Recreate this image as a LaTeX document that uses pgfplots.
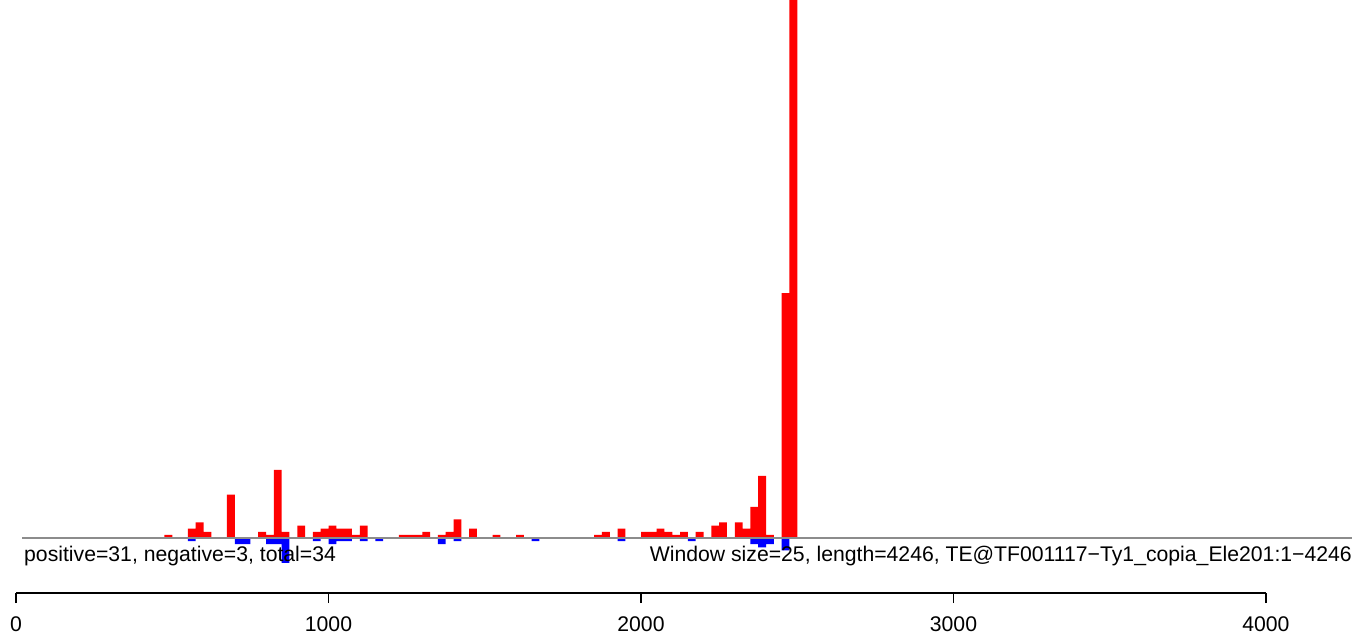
\documentclass[border=0pt]{standalone}
\usepackage{pgfplots}
\pgfplotsset{compat=1.18}
\usepackage{fontspec}
\setmainfont{Liberation Sans}
\newcommand{\rf}{\fontsize{21.2bp}{25bp}\selectfont}
\begin{document}
\begin{tikzpicture}
\path[use as bounding box] (0,0) rectangle (1356bp,637bp);
\begin{axis}[
  at={(0,0)}, anchor=south west,
  scale only axis, width=1356bp, height=637bp,
  xmin=-51.2, xmax=4288, ymin=-31.935, ymax=173.548,
  hide axis,
  ybar, bar width=25, bar shift=0pt,
]
\addplot[draw=none, fill=red] coordinates {
(487.5,1) (562.5,3) (587.5,5) (612.5,2) (687.5,14) (787.5,2) (812.5,1)
(837.5,22) (862.5,2) (912.5,4) (962.5,2) (987.5,3) (1012.5,4) (1037.5,3)
(1062.5,3) (1087.5,1) (1112.5,4) (1237.5,1) (1262.5,1) (1287.5,1) (1312.5,2)
(1362.5,1) (1387.5,2) (1412.5,6) (1462.5,3) (1537.5,1) (1612.5,1) (1862.5,1)
(1887.5,2) (1937.5,3) (2012.5,2) (2037.5,2) (2062.5,3) (2087.5,2) (2112.5,1)
(2137.5,2) (2187.5,2) (2237.5,4) (2262.5,5) (2312.5,5) (2337.5,3) (2362.5,10)
(2387.5,20) (2412.5,1) (2462.5,79) (2487.5,250)
};
\addplot[draw=none, fill=blue] coordinates {
(562.5,-1) (712.5,-2) (737.5,-2) (812.5,-2) (837.5,-2) (862.5,-8) (962.5,-1)
(1012.5,-2) (1037.5,-1) (1062.5,-1) (1112.5,-1) (1162.5,-1) (1362.5,-2)
(1412.5,-1) (1662.5,-1) (1937.5,-1) (2162.5,-1) (2362.5,-2) (2387.5,-3)
(2412.5,-2) (2462.5,-4)
};
\addplot[sharp plot, color={rgb,1:red,0.55;green,0.55;blue,0.55}, line width=1.5bp, forget plot] coordinates {(19.2,0) (4275.2,0)};
\node[anchor=base west, inner sep=0pt, font=\rf] at (axis cs:25.6,-7.42) {positive=31, negative=3, total=34};
\node[anchor=base east, inner sep=0pt, font=\rf] at (axis cs:4275.2,-7.42) {Window size=25, length=4246, TE@TF001117−Ty1\_copia\_Ele201:1−4246};
\end{axis}
\begin{axis}[
  at={(16bp,44bp)}, anchor=south west,
  scale only axis, width=1250bp, height=10bp,
  xmin=0, xmax=4000, ymin=0, ymax=1,
  axis x line*=bottom, hide y axis,
  axis line style={black, line width=1.3bp},
  xtick={0,1000,2000,3000,4000},
  tick align=outside, major tick length=10bp,
  xtick style={black, line width=1.3bp},
  xticklabel style={font=\rf, inner sep=0pt, yshift=-13bp},
  /pgf/number format/assume math mode=true,
  /pgf/number format/1000 sep={},
  scaled x ticks=false,
]
\addplot[draw=none] coordinates {(0,0) (4000,0)};
\end{axis}
\end{tikzpicture}
\end{document}
